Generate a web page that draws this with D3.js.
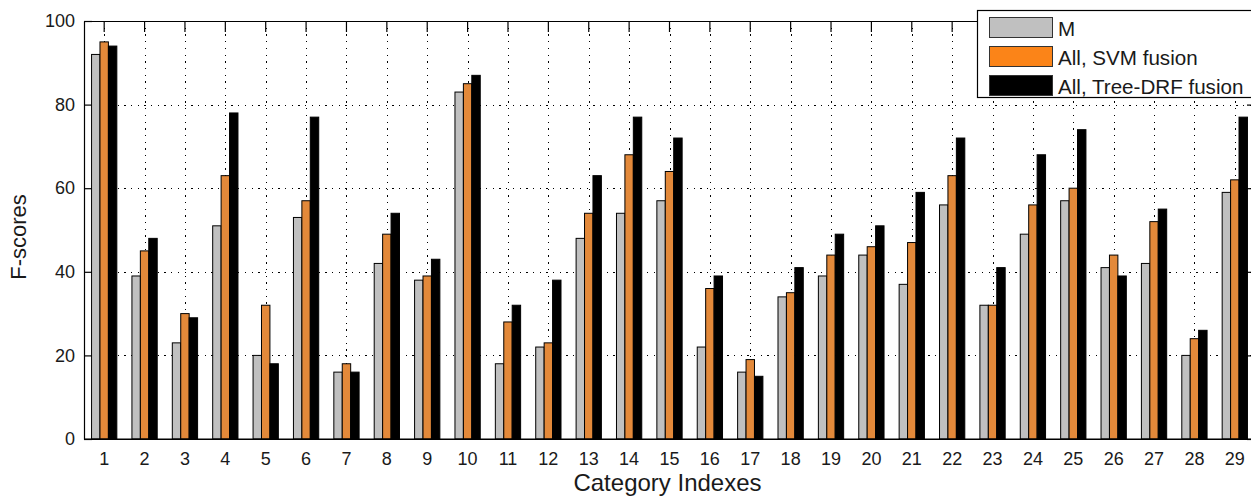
<!DOCTYPE html>
<html><head><meta charset="utf-8">
<script src="https://cdn.jsdelivr.net/npm/d3@7"></script>
<style>
body{margin:0;background:#fff;overflow:hidden}
text{font-family:"Liberation Sans",Arial,sans-serif;fill:#1a1a1a}
</style>
</head><body>
<svg id="chart" width="1251" height="502"></svg>
<script>
// ---- data ----
const categories = ["1","2","3","4","5","6","7","8","9","10","11","12","13","14","15","16","17","18","19","20","21","22","23","24","25","26","27","28","29"];
const seriesNames = ["M","All, SVM fusion","All, Tree-DRF fusion"];
const mValues    = [92,39,23,51,20,53,16,42,38,83,18,22,48,54,57,22,16,34,39,44,37,56,32,49,57,41,42,20,59];
const svmValues  = [95,45,30,63,32,57,18,49,39,85,28,23,54,68,64,36,19,35,44,46,47,63,32,56,60,44,52,24,62];
const treeValues = [94,48,29,78,18,77,16,54,43,87,32,38,63,77,72,39,15,41,49,51,59,72,41,68,74,39,55,26,77];
const yTicks = [0,20,40,60,80,100];
const yGrid = [20,40,60,80];
const xLabel = "Category Indexes";
const yLabel = "F-scores";

// ---- styles ----
const barColors = ["#c0c0c0","#e3893a","#000000"];
const legendColors = ["#c0c0c0","#fb8418","#000000"];

const series = [mValues, svmValues, treeValues];
const svg = d3.select("#chart");
const L = 84, R = 1255, T = 21, B = 439;

const x = d3.scaleBand().domain(categories).range([L, R]).padding(0);
const bw = x.bandwidth();
const x1 = d3.scaleBand().domain(seriesNames).range([-bw*0.313, bw*0.313]).padding(0);
const y = d3.scaleLinear().domain([0,100]).range([B, T]);
const cx = c => x(c) + bw/2;

function styleAxis(sel){
  sel.selectAll("path.domain").attr("stroke","#000").attr("stroke-width",1.2);
  sel.selectAll(".tick line").attr("stroke","#000").attr("stroke-width",1.2);
  sel.selectAll(".tick text").attr("font-size",18).attr("fill","#1a1a1a")
     .attr("font-family",'"Liberation Sans",Arial,sans-serif');
}

// grid
const grid = svg.append("g").attr("stroke","#000").attr("stroke-width",1)
  .attr("stroke-dasharray","1.3,5.4").attr("shape-rendering","crispEdges");
grid.selectAll("line.v").data(categories).join("line").attr("class","v")
  .attr("x1",d=>Math.round(cx(d))+0.5).attr("x2",d=>Math.round(cx(d))+0.5)
  .attr("y1",T).attr("y2",B);
grid.selectAll("line.h").data(yGrid).join("line").attr("class","h")
  .attr("y1",d=>Math.round(y(d))+0.5).attr("y2",d=>Math.round(y(d))+0.5)
  .attr("x1",L).attr("x2",R);

// bottom axis (under bars)
svg.append("g").attr("transform",`translate(0,${B})`)
  .call(d3.axisBottom(x).tickSizeInner(-11).tickSizeOuter(0).tickPadding(13))
  .call(styleAxis);

// bars
const rows = categories.map((c,i)=>({c, vals: series.map((s,k)=>({name: seriesNames[k], k, v: s[i]}))}));
const g = svg.append("g").selectAll("g").data(rows).join("g")
  .attr("transform", d=>`translate(${cx(d.c)},0)`);
g.selectAll("rect").data(d=>d.vals).join("rect")
  .attr("x", d=>x1(d.name))
  .attr("width", x1.bandwidth())
  .attr("y", d=>y(d.v))
  .attr("height", d=>B - y(d.v))
  .attr("fill", d=>barColors[d.k])
  .attr("stroke","#000").attr("stroke-width",1);

// other axes
svg.append("line").attr("x1",L).attr("x2",R).attr("y1",B).attr("y2",B)
  .attr("stroke","#000").attr("stroke-width",1.2);
svg.append("g").attr("transform",`translate(0,${T})`)
  .call(d3.axisTop(x).tickSizeInner(-11).tickSizeOuter(0).tickFormat(""))
  .call(styleAxis);
svg.append("g").attr("transform",`translate(${L},0)`)
  .call(d3.axisLeft(y).tickValues(yTicks).tickSizeInner(-8).tickSizeOuter(0).tickPadding(9))
  .call(styleAxis);
svg.append("g").attr("transform",`translate(${R},0)`)
  .call(d3.axisRight(y).tickValues(yTicks).tickSizeInner(-8).tickSizeOuter(0).tickFormat(""))
  .call(styleAxis);

// labels
svg.append("text").attr("x",(L+R)/2 - 2).attr("y",491).attr("text-anchor","middle")
  .attr("font-size",24).text(xLabel);
svg.append("text").attr("transform","translate(26,237) rotate(-90)").attr("text-anchor","middle")
  .attr("font-size",22).text(yLabel);

// legend
const lg = svg.append("g");
lg.append("rect").attr("x",977.5).attr("y",10.5).attr("width",300).attr("height",87)
  .attr("fill","#fff").attr("stroke","#000").attr("stroke-width",1.2);
const li = lg.selectAll("g.item").data(seriesNames).join("g").attr("class","item")
  .attr("transform",(d,i)=>`translate(0,${17 + i*29})`);
li.append("rect").attr("x",989.5).attr("y",0.5).attr("width",63).attr("height",20)
  .attr("fill",(d,i)=>legendColors[i]).attr("stroke","#333").attr("stroke-width",1);
li.append("text").attr("x",1058).attr("y",19).attr("font-size",20.6).text(d=>d);
</script>
</body></html>
